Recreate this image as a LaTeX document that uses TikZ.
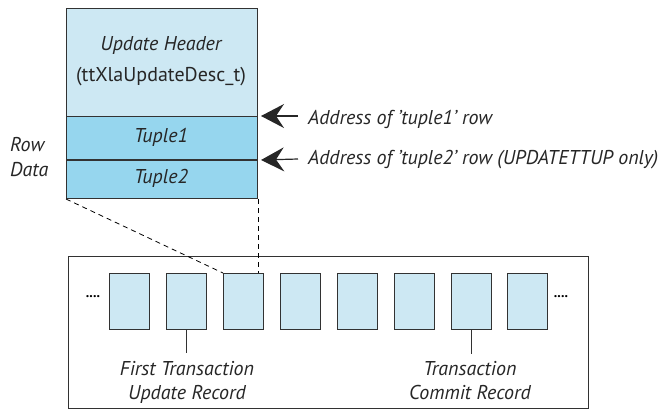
\documentclass[tikz,border=0pt]{standalone}
\usepackage{fontspec}
\setmainfont{PT Sans}
\usetikzlibrary{arrows.meta}
\definecolor{lightb}{RGB}{205,232,243}
\definecolor{tupb}{RGB}{150,214,238}
\definecolor{edge}{RGB}{50,50,50}
\tikzset{
  lbl/.style={font=\itshape\fontsize{20}{23}\selectfont, text=black!85, inner sep=0pt},
  rec/.style={draw=edge, line width=1pt, fill=lightb, minimum width=40pt, minimum height=56pt, inner sep=0pt},
  ptr/.style={-{Stealth[length=23pt,width=24pt,inset=8pt]}, line width=1.2pt, draw=black!85},
  dsh/.style={dashed, dash pattern=on 5pt off 4pt, line width=0.8pt},
  tick/.style={line width=1pt, draw=edge}
}
\begin{document}
\begin{tikzpicture}[x=1pt,y=-1pt]
\useasboundingbox (0,0) rectangle (668,408);
% top structure
\node[draw=edge, line width=1pt, fill=lightb, minimum width=191pt, minimum height=108pt, inner sep=0pt, anchor=north west] (hdr) at (66,8) {};
\node[draw=edge, line width=1pt, fill=tupb, minimum width=191pt, minimum height=43pt, inner sep=0pt, anchor=north west] (t1) at (66,116) {};
\node[draw=edge, line width=1pt, fill=tupb, minimum width=191pt, minimum height=39pt, inner sep=0pt, anchor=north west] (t2) at (66,159) {};
\draw[edge, line width=1.5pt] (t1.south west) -- (t1.south east);
\node[lbl] (h1) at (161,45) {Update Header};
\node[lbl, font=\fontsize{20}{23}\selectfont] (h2) at (161,77) {(ttXlaUpdateDesc\_t)};
\node[lbl] (tp1) at (161,137) {Tuple1};
\node[lbl] (tp2) at (161,178) {Tuple2};
\node[lbl, align=left, anchor=west] (rd) at (10,157) {Row\\[2pt]Data};
% arrows
\node[lbl, anchor=west] (a1) at (308,119) {Address of 'tuple1' row};
\node[lbl, anchor=west] (a2) at (308,160) {Address of 'tuple2' row (UPDATETTUP only)};
\coordinate (a1s) at (298,116);
\coordinate (a2s) at (298,159);
\draw[ptr] (a1s) -- ([xshift=3pt]t1.north east);
\draw[ptr] (a2s) -- ([xshift=3pt]t1.south east);
% log frame
\node[draw=edge, line width=1pt, minimum width=520pt, minimum height=152pt, inner sep=0pt, anchor=north west] (frame) at (68,256) {};
\foreach \i/\x in {1/109,2/166,3/223,4/280,5/337,6/394,7/451,8/507} {
  \node[rec, anchor=north west] (r\i) at (\x,273) {};
}
\node[font=\fontsize{14}{16}\selectfont\bfseries, inner sep=0pt] (dl) at (93,297) {....};
\node[font=\fontsize{14}{16}\selectfont\bfseries, inner sep=0pt] (dr) at (561,297) {....};
% dashed links
\draw[dsh] (t2.south west) -- (r3.north west);
\draw[dsh] (t2.south east) -- (t2.south east |- r3.north);
% labels under records
\coordinate (f1) at (r2.south |- 0,353);
\coordinate (f2) at (r7.south |- 0,354);
\draw[tick] (r2.south) -- (f1);
\draw[tick] (r7.south) -- (f2);
\node[lbl, align=center] (ft) at (187,382) {First Transaction\\[1pt]Update Record};
\node[lbl, align=center] (cr) at (470,381) {Transaction\\[1pt]Commit Record};
\end{tikzpicture}
\end{document}
